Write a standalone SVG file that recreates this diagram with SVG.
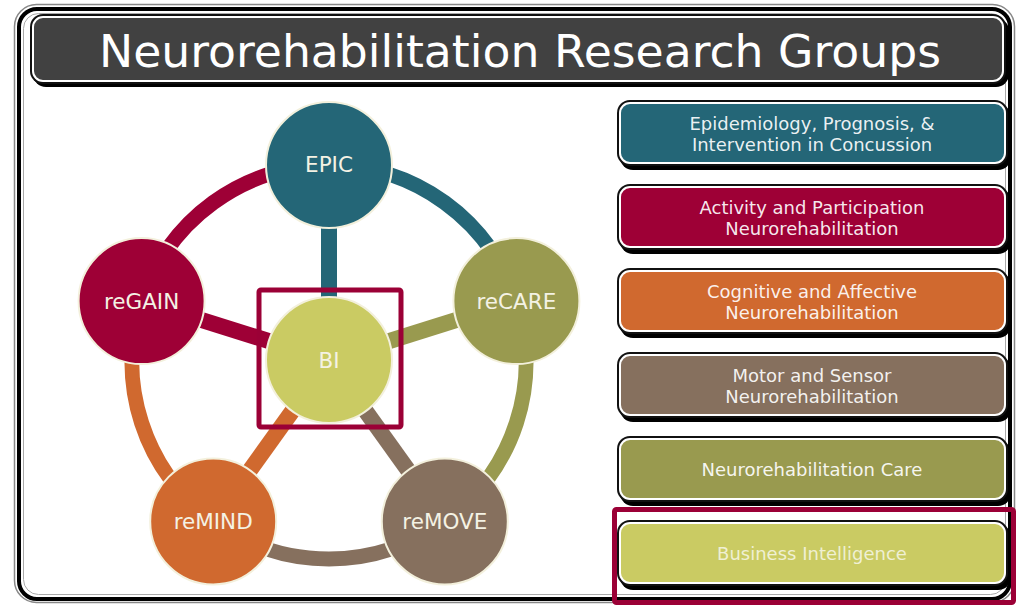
<svg xmlns="http://www.w3.org/2000/svg" width="1017" height="606" viewBox="0 0 1017 606">
<style>
.t{font-family:"DejaVu Sans","Verdana",sans-serif;text-anchor:middle}
.bt{font-size:18px;fill:#ffffff;fill-opacity:.92}
.ct{font-size:21.5px;fill:#f4f2e4}
.sh{fill:#000}
.bd{fill:#111}
.in{stroke:#fff;stroke-width:2}
.node{stroke:#f3f0dc;stroke-width:2}
.arc{fill:none;stroke-width:15}
.spoke{stroke-width:16}
.hl{fill:none;stroke:#9b0036;stroke-width:5}
</style>
<rect width="1017" height="606" fill="#fff"/>
<g id="frame">
<rect x="14.5" y="4.5" width="1000" height="598" rx="22" fill="none" stroke="#888" stroke-width="1.5"/>
<rect x="19" y="9" width="991" height="590" rx="18" fill="none" stroke="#000" stroke-width="4"/>
<rect x="23.5" y="13.5" width="982" height="581" rx="15" fill="none" stroke="#aaa" stroke-width="1"/>
</g>
<g id="title">
<rect x="33" y="18" width="976" height="69" rx="13" class="sh"/>
<rect x="30" y="14" width="976" height="70" rx="13" class="bd"/>
<rect x="33" y="17" width="970" height="64" rx="10" fill="#414141" class="in"/>
<text x="520" y="67" class="t" font-size="45" fill="#fff" textLength="842" lengthAdjust="spacingAndGlyphs">Neurorehabilitation Research Groups</text>
</g>
<g id="connectors">
<path class="arc" stroke="#246677" d="M329 165 A197 197 0 0 1 516.4 301.1"/>
<path class="arc" stroke="#999a4f" d="M516.4 301.1 A197 197 0 0 1 444.8 521.4"/>
<path class="arc" stroke="#86705e" d="M444.8 521.4 A197 197 0 0 1 213.2 521.4"/>
<path class="arc" stroke="#d0692f" d="M213.2 521.4 A197 197 0 0 1 141.6 301.1"/>
<path class="arc" stroke="#9e0036" d="M141.6 301.1 A197 197 0 0 1 329 165"/>
<line class="spoke" stroke="#246677" x1="329" y1="360" x2="329" y2="165"/>
<line class="spoke" stroke="#999a4f" x1="329" y1="360" x2="516.4" y2="301.1"/>
<line class="spoke" stroke="#86705e" x1="329" y1="360" x2="444.8" y2="521.4"/>
<line class="spoke" stroke="#d0692f" x1="329" y1="360" x2="213.2" y2="521.4"/>
<line class="spoke" stroke="#9e0036" x1="329" y1="360" x2="141.6" y2="301.1"/>
</g>
<g id="n-epic"><circle cx="329" cy="165" r="63" fill="#246677" class="node"/><text x="329" y="172" class="t ct">EPIC</text></g>
<g id="n-recare"><circle cx="516.4" cy="301.1" r="63" fill="#999a4f" class="node"/><text x="516.4" y="309" class="t ct">reCARE</text></g>
<g id="n-remove"><circle cx="444.8" cy="521.4" r="63" fill="#86705e" class="node"/><text x="444.8" y="529" class="t ct">reMOVE</text></g>
<g id="n-remind"><circle cx="213.2" cy="521.4" r="63" fill="#d0692f" class="node"/><text x="213.2" y="529" class="t ct">reMIND</text></g>
<g id="n-regain"><circle cx="141.6" cy="301.1" r="63" fill="#9e0036" class="node"/><text x="141.6" y="309" class="t ct">reGAIN</text></g>
<g id="n-bi"><circle cx="329" cy="360" r="63" fill="#cacb63" class="node"/><text x="329" y="368" class="t ct">BI</text></g>
<g id="hl-bi"><rect x="259" y="290" width="142" height="137" rx="2" class="hl"/></g>
<g id="b-epic">
<rect x="620" y="104" width="391" height="66" rx="13" class="sh"/>
<rect x="617" y="100" width="391" height="66" rx="13" class="bd"/>
<rect x="620" y="103" width="385" height="60" rx="10" fill="#246677" class="in"/>
<text x="812" y="130" class="t bt">Epidemiology, Prognosis, &amp;</text>
<text x="812" y="151" class="t bt">Intervention in Concussion</text>
</g>
<g id="b-regain">
<rect x="620" y="188" width="391" height="66" rx="13" class="sh"/>
<rect x="617" y="184" width="391" height="66" rx="13" class="bd"/>
<rect x="620" y="187" width="385" height="60" rx="10" fill="#9e0036" class="in"/>
<text x="812" y="214" class="t bt">Activity and Participation</text>
<text x="812" y="235" class="t bt">Neurorehabilitation</text>
</g>
<g id="b-remind">
<rect x="620" y="272" width="391" height="66" rx="13" class="sh"/>
<rect x="617" y="268" width="391" height="66" rx="13" class="bd"/>
<rect x="620" y="271" width="385" height="60" rx="10" fill="#d0692f" class="in"/>
<text x="812" y="298" class="t bt">Cognitive and Affective</text>
<text x="812" y="319" class="t bt">Neurorehabilitation</text>
</g>
<g id="b-remove">
<rect x="620" y="356" width="391" height="66" rx="13" class="sh"/>
<rect x="617" y="352" width="391" height="66" rx="13" class="bd"/>
<rect x="620" y="355" width="385" height="60" rx="10" fill="#86705e" class="in"/>
<text x="812" y="382" class="t bt">Motor and Sensor</text>
<text x="812" y="403" class="t bt">Neurorehabilitation</text>
</g>
<g id="b-recare">
<rect x="620" y="440" width="391" height="66" rx="13" class="sh"/>
<rect x="617" y="436" width="391" height="66" rx="13" class="bd"/>
<rect x="620" y="439" width="385" height="60" rx="10" fill="#999a4f" class="in"/>
<text x="812" y="476" class="t bt">Neurorehabilitation Care</text>
</g>
<g id="b-bi">
<rect x="620" y="524" width="391" height="66" rx="13" class="sh"/>
<rect x="617" y="520" width="391" height="66" rx="13" class="bd"/>
<rect x="620" y="523" width="385" height="60" rx="10" fill="#cacb63" class="in"/>
<text x="812" y="560" class="t bt" style="fill-opacity:.72">Business Intelligence</text>
</g>
<g id="hl-box"><rect x="614.5" y="509.5" width="399" height="93" rx="2" class="hl"/></g>
</svg>
